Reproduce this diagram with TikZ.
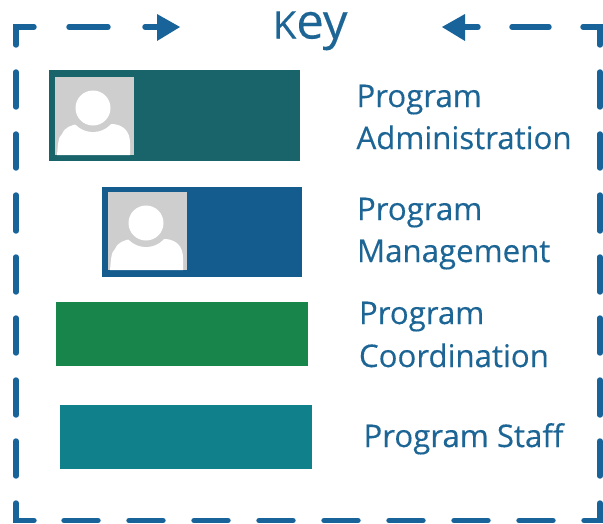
\documentclass[tikz,border=0pt]{standalone}
\usepackage{fontspec}
\setmainfont[RawFeature={embolden=0.25}]{Open Sans}
\definecolor{keyblue}{HTML}{17639A}
\definecolor{txtblue}{HTML}{1C6595}
\definecolor{adminc}{HTML}{19646B}
\definecolor{mgmtc}{HTML}{145B8E}
\definecolor{coordc}{HTML}{18864A}
\definecolor{staffc}{HTML}{10808A}
\definecolor{photoc}{HTML}{CDCECD}
\tikzset{
  x=1pt,y=-1pt,
  bar/.style={draw=none,inner sep=0pt,outer sep=0pt},
  dashline/.style={draw=keyblue,line width=5.4pt,line cap=round,line join=miter},
  headtip/.style={fill=keyblue,draw=none},
  lab/.style={anchor=base west,inner sep=0pt,outer sep=0pt,text=txtblue,font=\fontsize{31.2}{36}\selectfont},
  pics/person/.style={code={
    \fill[photoc] (0,0) rectangle (79,78);
    \fill[white] (2,78) .. controls (3,68) and (3,60) .. (7,57)
       .. controls (10,50) and (16,48) .. (24,47) -- (58,47)
       .. controls (68,48) and (75,54) .. (75,66) -- (75,78) -- cycle;
    \fill[photoc] (38,31) circle (24);
    \fill[white] (38,31) circle (17.5);
  }}
}
\begin{document}
\begin{tikzpicture}
\useasboundingbox (0,0) rectangle (603,523);
% outline
\draw[dashline] (34,27) -- (16,27) -- (16,45);
\foreach \a/\b in {72/107,134/168,195/231,257/292,318/353,380/415,441/476}{
  \draw[dashline] (16,\a) -- (16,\b);
  \draw[dashline] (600,\a) -- (600,\b);
}
\draw[dashline] (16,503) -- (16,520.5) -- (34,520.5);
\foreach \a/\b in {64/98,129/163,194/228,259/293,324/358,389/423,454/488,519/553}{
  \draw[dashline] (\a,520.5) -- (\b,520.5);
}
\draw[dashline] (584,520.5) -- (600,520.5) -- (600,503);
\draw[dashline] (583,27) -- (600,27) -- (600,45);
\draw[dashline] (69,27) -- (108,27);
\draw[dashline] (145,27) -- (160,27);
\draw[dashline] (478,27) -- (465,27);
\draw[dashline] (512,27) -- (549,27);
\fill[headtip] (157,14) -- (180,27) -- (157,41) -- cycle;
\fill[headtip] (465,14) -- (442,27) -- (465,41) -- cycle;
% title
\node[lab,font=\fontsize{38}{40}\selectfont] (key) at (273,38.5) {K\fontsize{49}{54}\selectfont ey};
% bars
\node[bar,fill=adminc,minimum width=251pt,minimum height=91pt,anchor=north west] (admin) at (49,70) {};
\pic at (55,77) {person};
\node[bar,fill=mgmtc,minimum width=200pt,minimum height=90pt,anchor=north west] (mgmt) at (102,187) {};
\pic at (108,192) {person};
\node[bar,fill=coordc,minimum width=252pt,minimum height=64pt,anchor=north west] (coord) at (56,302) {};
\node[bar,fill=staffc,minimum width=252pt,minimum height=64pt,anchor=north west] (staff) at (60,405) {};
% labels
\node[lab] (l1a) at (356.5,107) {Program};
\node[lab] (l1b) at (356.5,149) {Administration};
\node[lab] (l2a) at (357,220) {Program};
\node[lab] (l2b) at (357,262) {Management};
\node[lab] (l3a) at (359,324) {Program};
\node[lab] (l3b) at (359,367) {Coordination};
\node[lab] (l4) at (363.5,447) {Program Staff};
\end{tikzpicture}
\end{document}
